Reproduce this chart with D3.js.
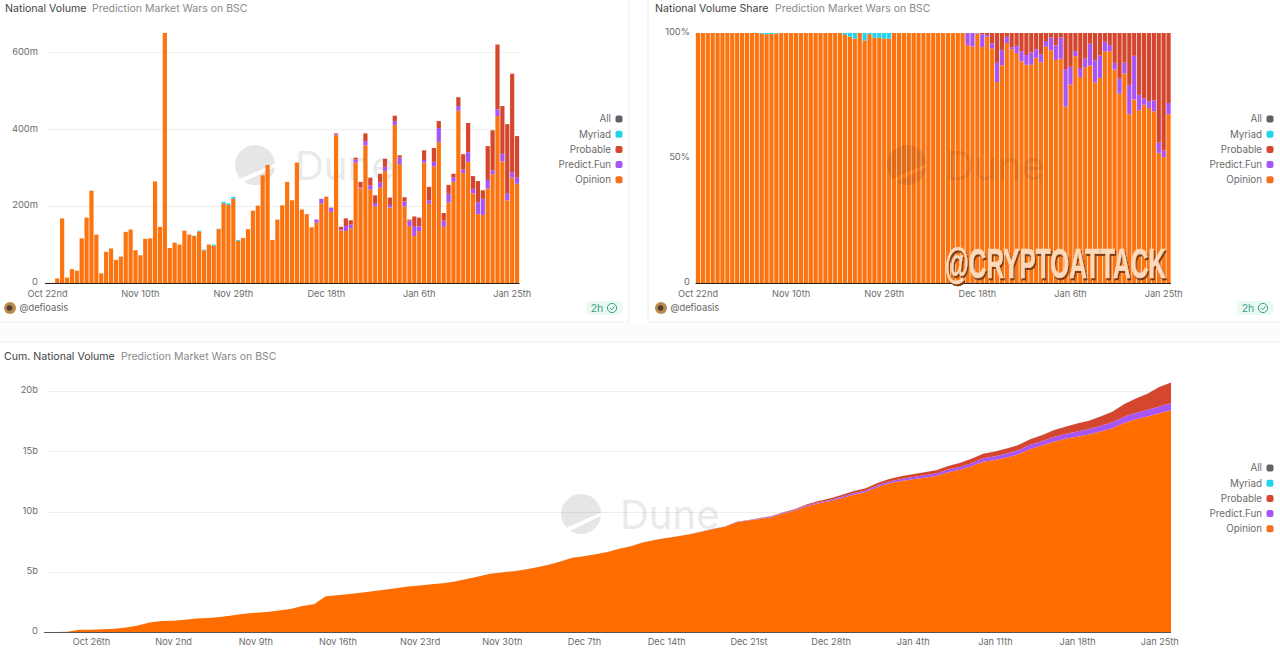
<!DOCTYPE html>
<html>
<head>
<meta charset="utf-8">
<script src="https://d3js.org/d3.v7.min.js"></script>
<style>
html, body { margin: 0; padding: 0; background: #fff; }
svg { display: block; }
text { font-family: Inter, "Noto Sans", sans-serif; }
</style>
</head>
<body>
<svg id="chart" width="1280" height="650"></svg>
<script>
// daily volume in millions, one entry per day from Oct 22nd to Jan 26th
var opinion = [0.3, 0.5, 12, 168, 14, 36, 32, 116, 170, 240, 126, 25, 81, 89.7, 59.7, 68.7, 132.7, 139, 85, 72,
	115, 116, 264, 146, 650, 91, 105, 100, 136, 126, 122, 134, 85, 100, 97, 140.3, 207, 203, 219, 109.5,
	117, 140, 188, 201, 280, 307, 112, 165, 202, 263, 215, 313, 191, 179, 145, 157, 207, 224, 185, 383,
	137, 135, 142, 313, 246, 358, 243, 199, 248, 291, 196, 411, 309, 199, 148, 122, 135, 313, 206, 303,
	366, 146, 209, 263, 448, 286, 315, 233, 179, 177, 246, 283, 434, 316, 215, 274, 258];
var predictFun = [0, 0, 0, 0, 0, 0, 0, 0, 0, 0, 0, 0, 0, 0, 0, 0, 0, 0, 0, 0,
	0, 0, 0, 0, 0, 0, 0, 0, 0, 0, 0, 0, 0, 0, 0, 0, 0, 0, 0, 0,
	0, 0, 0, 0, 0, 0, 0, 0, 0, 0, 0, 0, 0, 0, 0, 8, 12, 0.5, 10, 3,
	3, 13, 10, 8, 2, 11, 11, 9, 14, 11, 7, 10, 17, 13, 14, 26, 12, 7, 9, 12,
	37, 16, 23, 11, 12, 9, 25, 12, 31, 42, 22, 10, 17, 20, 17, 14, 17];
var probable = [0, 0, 0, 0, 0, 0, 0, 0, 0, 0, 0, 0, 0, 0, 0, 0, 0, 0, 0, 0,
	0, 0, 0, 0, 0, 0, 0, 0, 0, 0, 0, 0, 0, 0, 0, 0, 0, 0, 0, 0,
	0, 0, 0, 0, 0, 0, 0, 0, 0, 0, 0, 0, 0, 0, 0, 0, 0, 0, 1, 3,
	6, 20, 11, 5, 15, 20, 20, 20, 22, 21, 19, 14, 6, 11, 3, 25, 23, 25, 35, 36,
	18, 20, 23, 10, 23, 40, 76, 33, 55, 22, 88, 104, 169, 124, 181, 256, 107];
var myriad = [0, 0, 0, 0, 0, 0, 0, 0, 0, 0, 0, 0, 0, 0.3, 0.3, 0.3, 0.3, 0, 0, 0,
	0, 0, 0, 0, 0, 0, 0, 0, 0, 0, 1, 2, 2, 0, 3, 0.7, 4, 4, 5, 2.5,
	0, 0, 0, 0, 0, 0, 0, 0, 0, 0, 0, 0, 0, 0, 0, 0, 0, 0, 0, 0,
	0, 0, 0, 0, 0, 0, 0, 0, 0, 0, 0, 0, 0, 0, 0, 0, 0, 0, 0, 0,
	0, 0, 0, 0, 0, 0, 0, 0, 0, 0, 0, 0, 0, 0, 0, 0, 0];

var seriesNames = ["Opinion", "Predict.Fun", "Probable", "Myriad"];
var seriesValues = [opinion, predictFun, probable, myriad];
var barColors = ["#fb7410", "#a855f7", "#d4472e", "#22d3ee"];
var areaColors = ["#ff6c00", "#a855f7", "#d4472e", "#22d3ee"];
var areaOpacity = [1, 1, 1, 0.2];

var legendNames = ["All", "Myriad", "Probable", "Predict.Fun", "Opinion"];
var legendColors = ["#5f6368", "#22d3ee", "#d4472e", "#a855f7", "#f5701a"];

var dailyTickDays = [0, 19, 38, 57, 76, 95];
var dailyTickLabels = ["Oct 22nd", "Nov 10th", "Nov 29th", "Dec 18th", "Jan 6th", "Jan 25th"];
var volumeTicks = [0, 200, 400, 600];
var volumeTickLabels = ["0", "200m", "400m", "600m"];
var shareTicks = [0, 0.5, 1];
var shareTickLabels = ["0", "50%", "100%"];
var cumTicks = [0, 5000, 10000, 15000, 20000];
var cumTickLabels = ["0", "5b", "10b", "15b", "20b"];
var cumTickDays = [4, 11, 18, 25, 32, 39, 46, 53, 60, 67, 74, 81, 88, 95];
var cumTickDayLabels = ["Oct 26th", "Nov 2nd", "Nov 9th", "Nov 16th", "Nov 23rd", "Nov 30th", "Dec 7th",
	"Dec 14th", "Dec 21st", "Dec 28th", "Jan 4th", "Jan 11th", "Jan 18th", "Jan 25th"];

var firstDay = new Date(2025, 9, 22);
var days = opinion.map(function(d, i) { return d3.timeDay.offset(firstDay, i); });

// one row per day, keyed by series name
var dailyRows = days.map(function(day, i) {
	var row = { date: day };
	seriesNames.forEach(function(name, s) { row[name] = seriesValues[s][i]; });
	return row;
});

// running totals for the bottom chart
var cumValues = seriesValues.map(function(values) { return Array.from(d3.cumsum(values)); });
var cumRows = days.map(function(day, i) {
	var row = { date: day };
	seriesNames.forEach(function(name, s) { row[name] = cumValues[s][i]; });
	return row;
});

var svg = d3.select("#chart");

// card outlines
var cardLines = [[0, 322, 629, 322], [629, 0, 629, 322], [648, 0, 648, 322], [648, 322, 1280, 322], [0, 342, 1280, 342]];
svg.append("rect").attr("x", 0).attr("y", 323).attr("width", 1280).attr("height", 19).attr("fill", "#fcfcfc");
svg.selectAll("line.card").data(cardLines).enter().append("line")
	.attr("class", "card")
	.attr("x1", function(d) { return d[0]; }).attr("y1", function(d) { return d[1]; })
	.attr("x2", function(d) { return d[2]; }).attr("y2", function(d) { return d[3]; })
	.attr("stroke", "#ededed");

function drawTitle(x, y, title, subX, subtitle) {
	svg.append("text").attr("x", x).attr("y", y).attr("dy", ".35em")
		.attr("font-size", 10.6).attr("fill", "#444").text(title);
	svg.append("text").attr("x", subX).attr("y", y).attr("dy", ".35em")
		.attr("font-size", 10.5).attr("fill", "#8a8a8a").text(subtitle);
}

function drawLegend(textX, topY) {
	var g = svg.append("g");
	legendNames.forEach(function(name, i) {
		var y = topY + i * 15.2;
		g.append("text").attr("x", textX).attr("y", y).attr("dy", ".35em").attr("text-anchor", "end")
			.attr("font-size", 9.8).attr("fill", "#6b6b6b").text(name);
		g.append("rect").attr("x", textX + 4.5).attr("y", y - 3.5).attr("width", 7).attr("height", 7).attr("rx", 2)
			.attr("fill", legendColors[i]);
	});
}

function drawYAxis(yScale, ticks, labels, axisX) {
	var axis = d3.axisLeft(yScale).tickValues(ticks)
		.tickFormat(function(d, i) { return labels[i]; })
		.tickSize(0).tickPadding(0);
	var g = svg.append("g").attr("transform", "translate(" + axisX + ",0)").call(axis);
	g.select(".domain").remove();
	g.selectAll("text").attr("font-size", 9.4).attr("fill", "#6b6b6b").attr("dy", ".2em");
	return g;
}

function drawGrid(yScale, ticks, x1, x2) {
	svg.append("g").selectAll("line").data(ticks.filter(function(d) { return d > 0; })).enter().append("line")
		.attr("x1", x1).attr("x2", x2)
		.attr("y1", function(d) { return Math.round(yScale(d)) + 0.5; })
		.attr("y2", function(d) { return Math.round(yScale(d)) + 0.5; })
		.attr("stroke", "#eeeeee");
}

function drawBars(left, right, top, bottom, domainMax, offset) {
	var xScale = d3.scaleBand().domain(days).range([left, right]).paddingInner(0.14).paddingOuter(0.07);
	var yScale = d3.scaleLinear().domain([0, domainMax]).range([bottom, top]);
	var stack = d3.stack().keys(seriesNames).offset(offset);
	var g = svg.append("g");
	stack(dailyRows).forEach(function(layer, s) {
		g.append("g").attr("fill", barColors[s]).selectAll("rect").data(layer).enter().append("rect")
			.attr("x", function(d) { return xScale(d.data.date); })
			.attr("width", xScale.bandwidth())
			.attr("y", function(d) { return yScale(d[1]); })
			.attr("height", function(d) { return Math.max(0, yScale(d[0]) - yScale(d[1])); });
	});
	var xAxis = d3.axisBottom(xScale)
		.tickValues(dailyTickDays.map(function(i) { return days[i]; }))
		.tickFormat(function(d, i) { return dailyTickLabels[i]; })
		.tickSize(0).tickPadding(7.5);
	var ax = svg.append("g").attr("transform", "translate(0," + bottom + ")").call(xAxis);
	ax.select(".domain").attr("stroke", "#222").attr("d", "M" + left + ",0.5H" + right);
	ax.selectAll("text").attr("font-size", 9.2).attr("fill", "#6b6b6b");
	return yScale;
}

function drawCumArea(left, right, top, bottom) {
	var xScale = d3.scaleTime().domain([days[0], days[days.length - 1]]).range([left, right]);
	var yScale = d3.scaleLinear().domain([0, 20000]).range([bottom, top]);
	var area = d3.area()
		.x(function(d) { return xScale(d.data.date); })
		.y0(function(d) { return yScale(d[0]); })
		.y1(function(d) { return yScale(d[1]); });
	var stack = d3.stack().keys(seriesNames);
	svg.append("g").selectAll("path").data(stack(cumRows)).enter().append("path")
		.attr("d", area)
		.attr("fill", function(d, i) { return areaColors[i]; })
		.attr("fill-opacity", function(d, i) { return areaOpacity[i]; });
	var xAxis = d3.axisBottom(xScale)
		.tickValues(cumTickDays.map(function(i) { return days[i]; }))
		.tickFormat(function(d, i) { return cumTickDayLabels[i]; })
		.tickSize(0).tickPadding(6.5);
	var ax = svg.append("g").attr("transform", "translate(0," + bottom + ")").call(xAxis);
	ax.select(".domain").attr("stroke", "#555").attr("d", "M" + left + ",0.5H" + right);
	ax.selectAll("text").attr("font-size", 9.2).attr("fill", "#6b6b6b");
	return yScale;
}

// Dune watermark, cx/cy is the middle of the round logo
function drawWatermark(cx, cy, textX, color) {
	var g = svg.append("g").attr("fill", color);
	g.append("g").attr("transform", "translate(" + cx + "," + cy + ")").selectAll("path")
		.data(["M20,-1.5A20,20 0 1 0 -14.5,13.7Z", "M19.9,2A20,20 0 0 1 -11,16.7Z"])
		.enter().append("path").attr("d", function(d) { return d; });
	g.append("text").attr("x", textX).attr("y", cy + 15)
		.attr("font-size", 40).attr("fill", color).text("Dune");
}

function drawAuthor(x, y) {
	svg.append("circle").attr("cx", x + 6).attr("cy", y).attr("r", 6).attr("fill", "#b98a4e");
	svg.append("circle").attr("cx", x + 5.5).attr("cy", y).attr("r", 2.8).attr("fill", "#4a3d32");
	svg.append("text").attr("x", x + 15.5).attr("y", y).attr("dy", ".35em")
		.attr("font-size", 9.3).attr("fill", "#666").text("@defioasis");
}

function drawBadge(x, y) {
	svg.append("rect").attr("x", x).attr("y", y - 7).attr("width", 37).attr("height", 14).attr("rx", 5).attr("fill", "#eafaf2");
	svg.append("text").attr("x", x + 11).attr("y", y).attr("dy", ".35em").attr("text-anchor", "middle")
		.attr("font-size", 10.5).attr("fill", "#3f9d80").text("2h");
	svg.append("circle").attr("cx", x + 26).attr("cy", y).attr("r", 4.6)
		.attr("fill", "none").attr("stroke", "#3f9d80");
	svg.append("path").attr("d", "M" + (x + 23.8) + "," + y + "l1.7,1.8l3,-3.4")
		.attr("fill", "none").attr("stroke", "#3f9d80");
}

// top left: daily volume
drawTitle(5, 8, "National Volume", 92, "Prediction Market Wars on BSC");
var volumeY = d3.scaleLinear().domain([0, 650]).range([283, 33]);
drawGrid(volumeY, volumeTicks, 48, 519);
drawWatermark(255, 165, 295, "rgba(90,90,90,0.15)");
drawBars(45, 519.5, 33, 283, 650, d3.stackOffsetNone);
drawYAxis(volumeY, volumeTicks, volumeTickLabels, 38);
drawLegend(611, 119);
drawAuthor(4, 308);
drawBadge(586, 308);

// top right: share of volume
drawTitle(655, 8, "National Volume Share", 775, "Prediction Market Wars on BSC");
var shareY = drawBars(695.5, 1171, 33, 283, 1, d3.stackOffsetExpand);
drawYAxis(shareY, shareTicks, shareTickLabels, 690);
drawWatermark(907, 165, 945, "rgba(90,60,40,0.14)");
drawLegend(1262, 119);
drawAuthor(655, 308);
drawBadge(1237, 308);

// stamp sitting over the share chart, squeezed to the width it has in the picture
var stamp = svg.append("text").attr("x", 0).attr("y", 0)
	.style("font-family", "'Liberation Sans Narrow', 'Liberation Sans', sans-serif")
	.style("font-weight", 700).style("font-size", "42px")
	.style("filter", "drop-shadow(2px 2px 0 #7a3a12)")
	.attr("fill", "#fbd9ba").attr("stroke", "#fbd9ba").attr("stroke-width", 0.7)
	.text("@CRYPTOATTACK");
var stampScale = 221 / stamp.node().getComputedTextLength();
stamp.attr("transform", "translate(945,278) scale(" + stampScale + ",1)");

// bottom: running total
drawTitle(4, 356, "Cum. National Volume", 121, "Prediction Market Wars on BSC");
var cumY = d3.scaleLinear().domain([0, 20000]).range([632, 391]);
drawGrid(cumY, cumTicks, 48, 1171);
drawCumArea(44, 1171, 391, 632);
drawYAxis(cumY, cumTicks, cumTickLabels, 38);
drawWatermark(581, 514, 620, "rgba(90,90,90,0.15)");
drawLegend(1262, 468);
</script>
</body>
</html>
